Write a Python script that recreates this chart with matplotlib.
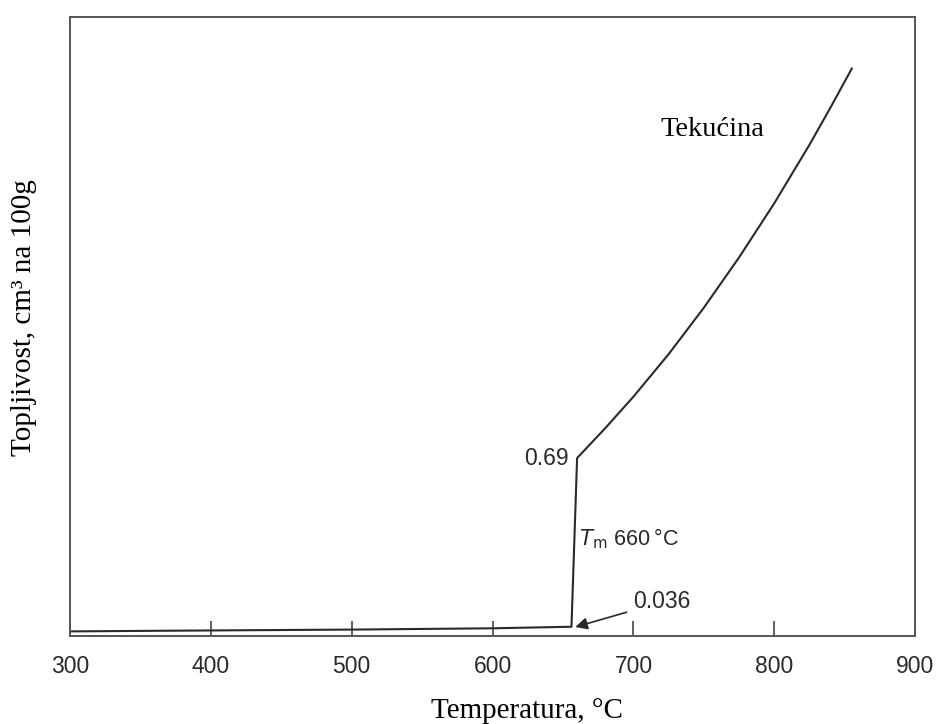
import matplotlib
matplotlib.use("Agg")
import matplotlib.pyplot as plt

# solid aluminium (below melting point)
solid_t = [300, 380, 500, 600, 656]
solid_s = [0.018, 0.021, 0.025, 0.030, 0.036]

# liquid aluminium (Tekucina)
liquid_t = [656, 660, 680, 700, 725, 750, 775, 800, 825, 840, 855]
liquid_s = [0.036, 0.69, 0.806, 0.928, 1.093, 1.273, 1.468, 1.678, 1.905, 2.05, 2.2]

xticks = [300, 400, 500, 600, 700, 800, 900]

fig = plt.figure(figsize=(9.37, 7.24), dpi=100)
ax = fig.add_axes([0.0747, 0.1215, 0.902, 0.855])

ax.plot(solid_t + liquid_t, solid_s + liquid_s, color="#2a2a2a", lw=1.5)

ax.set_xlim(300, 900)
ax.set_ylim(0, 2.4)
ax.set_xticks(xticks)
ax.set_yticks([])
ax.tick_params(axis="x", direction="in", length=11, width=1.2, color="#444444",
               pad=14, labelsize=16.5)
for lab in ax.get_xticklabels():
    lab.set_fontfamily("Liberation Sans")
    lab.set_color("#2a2a2a")
for sp in ax.spines.values():
    sp.set_color("#555555")
    sp.set_linewidth(1.4)

fig.text(527 / 937, 1 - 718 / 724, "Temperatura, °C", family="Liberation Serif",
         fontsize=21, ha="center", va="baseline")
fig.text(24 / 937, 1 - 318 / 724, "Topljivost, cm³ na 100g", family="Liberation Serif",
         fontsize=21, ha="center", va="center", rotation=90)

ax.text(756, 1.962, "Tekućina", family="Liberation Serif", fontsize=20.5, ha="center", va="center")
ax.text(654, 0.69, "0.69", family="Liberation Sans", fontsize=16.5, ha="right", va="center",
        color="#2a2a2a")
ax.text(661, 0.376, "$T_{\\rm m}$ 660\u2009°C", family="Liberation Sans", fontsize=15.5,
        ha="left", va="center", color="#2a2a2a")
ax.annotate("0.036", xy=(658.7, 0.035), xytext=(700, 0.132), family="Liberation Sans",
            fontsize=16.5, ha="left", va="center", color="#2a2a2a",
            arrowprops=dict(arrowstyle="-|>", color="#2a2a2a", lw=1.2, shrinkA=3, shrinkB=0,
                            mutation_scale=18))

fig.savefig("out.png", dpi=100)
